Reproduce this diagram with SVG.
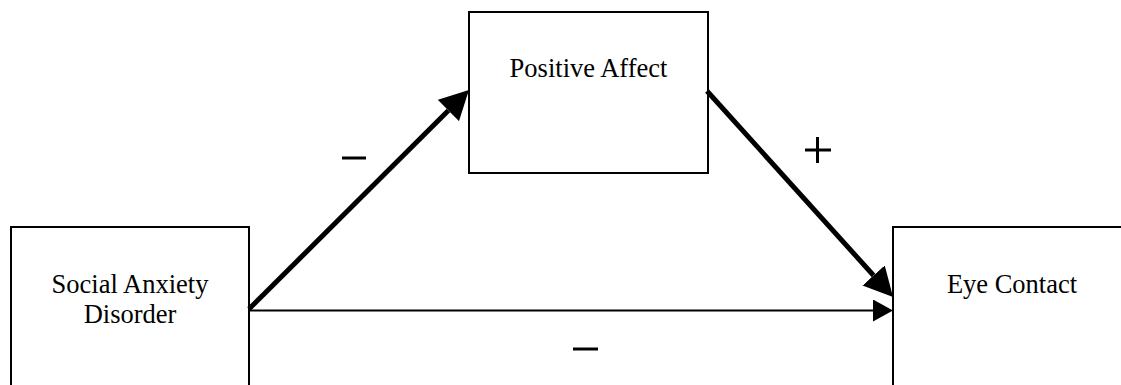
<svg xmlns="http://www.w3.org/2000/svg" width="1121" height="385" viewBox="0 0 1121 385">
<style>
.box{fill:#fff;stroke:#000;stroke-width:2}
.lbl{font-family:"Liberation Serif","Times New Roman",serif;font-size:26.5px;fill:#000;text-anchor:middle}
.thick{stroke:#000;stroke-width:5;fill:none}
.thin{stroke:#000;stroke-width:2;fill:none}
.sign{stroke:#000;stroke-width:3;fill:none}
</style>
<defs>
<marker id="bigHead" markerUnits="userSpaceOnUse" markerWidth="30" markerHeight="30" refX="0" refY="15" orient="auto" viewBox="0 0 30 30">
<path d="M0,0 L29,15 L0,30 z" fill="#000"/>
</marker>
<marker id="smallHead" markerUnits="userSpaceOnUse" markerWidth="21" markerHeight="22" refX="0" refY="11" orient="auto" viewBox="0 0 21 22">
<path d="M0,0 L20,11 L0,22 z" fill="#000"/>
</marker>
</defs>
<g id="node-sad">
<rect class="box" x="11" y="227" width="238" height="170"/>
<text class="lbl" x="130" y="293">Social Anxiety</text>
<text class="lbl" x="130" y="323">Disorder</text>
</g>
<g id="node-pa">
<rect class="box" x="469" y="12" width="239" height="161"/>
<text class="lbl" x="588.5" y="77">Positive Affect</text>
</g>
<g id="node-ec">
<rect class="box" x="893" y="227" width="240" height="170"/>
<text class="lbl" x="1012" y="293">Eye Contact</text>
</g>
<g id="connectors">
<line class="thick" x1="249" y1="309" x2="448.4" y2="110.5" marker-end="url(#bigHead)"/>
<line class="thick" x1="707" y1="91" x2="873.6" y2="275.5" marker-end="url(#bigHead)"/>
<line class="thin" x1="249" y1="310.5" x2="873" y2="310.5" marker-end="url(#smallHead)"/>
<path class="sign" d="M342,158 H366"/>
<path class="sign" d="M573,349 H598"/>
<path class="sign" d="M805,150 H831 M817.5,137 V163"/>
</g>
</svg>
